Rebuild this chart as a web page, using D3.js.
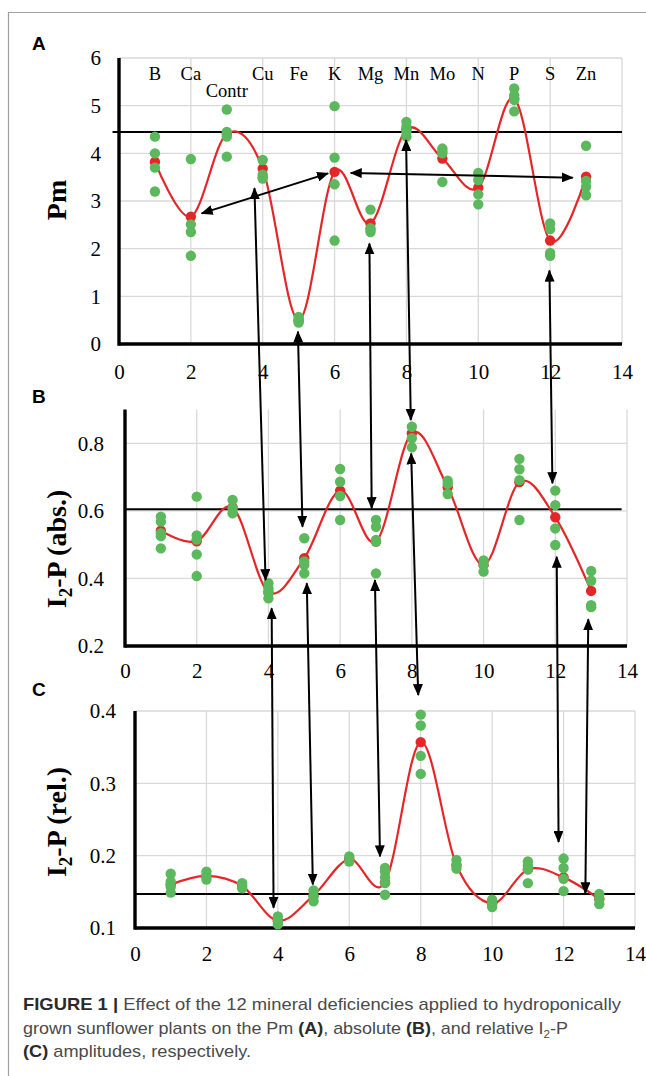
<!DOCTYPE html>
<html><head><meta charset="utf-8">
<script src="https://cdn.jsdelivr.net/npm/d3@7"></script>
<style>body{margin:0;background:#fff}svg{display:block}</style>
</head><body>
<svg id="chart" width="646" height="1076"></svg>
<script>
// ---------- DATA ----------
const categories = ["B","Ca","Contr","Cu","Fe","K","Mg","Mn","Mo","N","P","S","Zn"];
const xTicks = [0,2,4,6,8,10,12,14];

const pmTicks = [0,1,2,3,4,5,6];
const pmMean = [3.82,2.67,4.41,3.68,0.50,3.61,2.53,4.50,3.89,3.28,5.15,2.17,3.51];
const pmReps = [
  [4.35,4.0,3.7,3.2],[3.88,2.51,2.35,1.85],[4.92,4.45,4.35,3.93],[3.86,3.55,3.5,3.47],
  [0.57,0.52,0.48,0.45],[4.99,3.91,3.35,2.17],[2.82,2.43,2.4,2.35],[4.66,4.56,4.45,4.35],
  [4.1,4.05,4.0,3.4],[3.59,3.44,3.14,2.93],[5.36,5.22,5.12,4.88],[2.53,2.41,1.91,1.85],
  [4.16,3.42,3.3,3.12]];
const pmControl = 4.45;

const absTicks = [0.2,0.4,0.6,0.8];
const absMean = [0.541,0.51,0.61,0.36,0.46,0.66,0.509,0.83,0.67,0.44,0.685,0.581,0.363];
const absReps = [
  [0.583,0.568,0.534,0.525,0.489],[0.642,0.527,0.515,0.471,0.407],[0.632,0.608,0.593],
  [0.386,0.371,0.356,0.341],[0.519,0.45,0.44,0.415],[0.724,0.686,0.644,0.573],
  [0.573,0.553,0.514,0.509,0.415],[0.849,0.815,0.788],[0.689,0.68,0.65],[0.453,0.44,0.42],
  [0.754,0.723,0.691,0.573],[0.66,0.617,0.548,0.499],[0.422,0.393,0.321,0.315]];
const absControl = 0.605;

const relTicks = [0.1,0.2,0.3,0.4];
const relMean = [0.16,0.172,0.158,0.11,0.145,0.195,0.163,0.357,0.187,0.134,0.181,0.17,0.14];
const relReps = [
  [0.175,0.164,0.157,0.149],[0.178,0.171,0.167],[0.162,0.155],[0.116,0.109,0.105],
  [0.152,0.144,0.137],[0.199,0.192],[0.183,0.178,0.17,0.162,0.146],[0.395,0.38,0.338,0.313],
  [0.194,0.187,0.182],[0.139,0.134,0.129],[0.192,0.186,0.181,0.162],[0.196,0.183,0.168,0.151],
  [0.147,0.14,0.133]];
const relControl = 0.147;

// arrows: [panel, x, y] -> [panel, x, y] (tips), both ends headed
const arrows = [
  ["A",2.3,2.74,"A",5.82,3.58],
  ["A",6.45,3.59,"A",12.63,3.49],
  ["A",3.77,3.27,"B",3.92,0.395],
  ["A",4.98,0.26,"B",4.95,0.553],
  ["A",6.97,2.11,"B",6.88,0.608],
  ["A",7.99,4.28,"B",7.97,0.869],
  ["A",11.98,1.54,"B",11.92,0.682],
  ["B",4.09,0.312,"C",3.88,0.128],
  ["B",5.07,0.386,"C",4.98,0.16],
  ["B",6.97,0.395,"C",6.86,0.199],
  ["B",7.98,0.77,"C",7.93,0.422],
  ["B",12.04,0.464,"C",11.86,0.219],
  ["B",12.92,0.279,"C",12.61,0.148]
];

// ---------- DRAW ----------
const svg = d3.select("#chart");
const GREEN = "#5cb85c", RED = "#e52629", GRID = "#d9d9d9";
const SERIF = "'Liberation Serif','Times New Roman',serif";
const SANS = "'Liberation Sans',Arial,sans-serif";

// frame
svg.append("path").attr("d","M8.5,1076 V12.5 H646").attr("fill","none").attr("stroke","#a0a0a0").attr("stroke-width",1.2);

const defs = svg.append("defs");
defs.append("marker").attr("id","ah").attr("viewBox","0 0 12 10").attr("refX",11).attr("refY",5)
  .attr("markerUnits","userSpaceOnUse").attr("markerWidth",12).attr("markerHeight",10)
  .attr("orient","auto-start-reverse")
  .append("path").attr("d","M0,0 L12,5 L0,10 Z").attr("fill","#000");

const panels = {
  A:{x:d3.scaleLinear([0,14],[119,622]), y:d3.scaleLinear([0,6],[344,58]), ticks:pmTicks, mean:pmMean, reps:pmReps,
     ctrl:pmControl, ctrlX:[-0.18,14], fmt:d3.format("d"), letter:"A", letterY:50, padY:18, padX:20,
     title:[["Pm"]], titleY:200},
  B:{x:d3.scaleLinear([0,14],[125,627]), y:d3.scaleLinear([0.2,0.9],[646,409.5]), ticks:absTicks, mean:absMean, reps:absReps,
     ctrl:absControl, ctrlX:[0,13.85], fmt:d3.format(".1f"), letter:"B", letterY:403, padY:21, padX:17,
     title:[["I"],["2","sub"],["-P (abs.)"]], titleY:549},
  C:{x:d3.scaleLinear([0,14],[135,635]), y:d3.scaleLinear([0.1,0.4],[928,711]), ticks:relTicks, mean:relMean, reps:relReps,
     ctrl:relControl, ctrlX:[0,14], fmt:d3.format(".1f"), letter:"C", letterY:696, padY:19, padX:18,
     title:[["I"],["2","sub"],["-P (rel.)"]], titleY:822}
};

Object.values(panels).forEach(p => {
  const g = svg.append("g");
  const [y0,y1] = p.y.range();
  const [x0,x1] = p.x.range();
  // grid
  g.selectAll(".hg").data(p.ticks.concat(p.y.domain()[1] === p.ticks[p.ticks.length-1] ? [] : []))
    .join("line").attr("x1",x0).attr("x2",x1).attr("y1",d=>p.y(d)).attr("y2",d=>p.y(d))
    .attr("stroke",GRID).attr("stroke-width",1.3);
  g.selectAll(".vg").data(xTicks.filter(d=>d>0)).join("line")
    .attr("x1",d=>p.x(d)).attr("x2",d=>p.x(d)).attr("y1",y0).attr("y2",y1)
    .attr("stroke",GRID).attr("stroke-width",1.3);
  // control line
  g.append("line").attr("x1",p.x(p.ctrlX[0])).attr("x2",p.x(p.ctrlX[1]))
    .attr("y1",p.y(p.ctrl)).attr("y2",p.y(p.ctrl)).attr("stroke","#000").attr("stroke-width",2);
  // axes labels
  const ay = g.append("g").attr("transform",`translate(${x0},0)`)
    .call(d3.axisLeft(p.y).tickValues(p.ticks).tickSize(0).tickPadding(p.padY).tickFormat(p.fmt));
  const ax = g.append("g").attr("transform",`translate(0,${y0})`)
    .call(d3.axisBottom(p.x).tickValues(xTicks).tickSize(0).tickPadding(p.padX).tickFormat(d3.format("d")));
  [ay,ax].forEach(a=>{a.select(".domain").remove(); a.selectAll("text").attr("font-family",SERIF).attr("font-size",21).attr("fill","#000");});
  // heavy axis lines
  g.append("line").attr("x1",x0).attr("x2",x0).attr("y1",y0+1.7).attr("y2",y1).attr("stroke","#000").attr("stroke-width",3.4);
  g.append("line").attr("x1",x0).attr("x2",x1).attr("y1",y0).attr("y2",y0).attr("stroke","#000").attr("stroke-width",3.4);
  // mean curve
  const pts = p.mean.map((m,i)=>[i+1,m]);
  g.append("path").datum(pts).attr("fill","none").attr("stroke",RED).attr("stroke-width",2.2)
    .attr("d",d3.line().x(d=>p.x(d[0])).y(d=>p.y(d[1])).curve(d3.curveCardinal.tension(0)));
  g.selectAll(".md").data(pts).join("circle").attr("cx",d=>p.x(d[0])).attr("cy",d=>p.y(d[1])).attr("r",5.2).attr("fill",RED);
  const reps = p.reps.flatMap((arr,i)=>arr.map(v=>[i+1,v]));
  g.selectAll(".rd").data(reps).join("circle").attr("cx",d=>p.x(d[0])).attr("cy",d=>p.y(d[1])).attr("r",5.2).attr("fill",GREEN);
  // panel letter
  svg.append("text").attr("x",32).attr("y",p.letterY).attr("font-family",SANS).attr("font-weight","bold")
    .attr("font-size",19).text(p.letter);
  // y title
  const t = svg.append("text").attr("transform",`translate(66,${p.titleY}) rotate(-90)`).attr("text-anchor","middle")
    .attr("font-family",SERIF).attr("font-weight","bold").attr("font-size",28);
  let prevSub = false;
  p.title.forEach(([s,k])=>{
    const ts = t.append("tspan").text(s);
    if(k==="sub"){ts.attr("font-size",19).attr("dy",6);prevSub=true;}
    else if(prevSub){ts.attr("dy",-6);prevSub=false;}
  });
});

// category labels in panel A
const PA = panels.A;
svg.append("g").selectAll("text").data(categories).join("text")
  .attr("x",(d,i)=>PA.x(i+1)).attr("y",d=>d==="Contr"?97:80).attr("text-anchor","middle")
  .attr("font-family",SERIF).attr("font-size",18.5).text(d=>d);

// arrows
svg.append("g").selectAll("line").data(arrows).join("line")
  .attr("x1",d=>panels[d[0]].x(d[1])).attr("y1",d=>panels[d[0]].y(d[2]))
  .attr("x2",d=>panels[d[3]].x(d[4])).attr("y2",d=>panels[d[3]].y(d[5]))
  .attr("stroke","#000").attr("stroke-width",2)
  .attr("marker-start","url(#ah)").attr("marker-end","url(#ah)");

// caption
const capFont = "'Liberation Sans Narrow','Liberation Sans',Arial,sans-serif";
const capLines = [
  {y:1010, len:598, parts:[["FIGURE 1","b"],["  |  ","b"],["Effect of the 12 mineral deficiencies applied to hydroponically",""]]},
  {y:1034, len:545, parts:[["grown sunflower plants on the Pm ",""],["(A)","b"],[", absolute ",""],["(B)","b"],[", and relative I",""],["2","sub"],["-P",""]]},
  {y:1057, len:228, parts:[["(C)","b"],[" amplitudes, respectively.",""]]}
];
capLines.forEach(L=>{
  const t = svg.append("text").attr("x",23).attr("y",L.y).attr("font-family",capFont).attr("font-size",17)
    .attr("fill","#4a4a4a").attr("textLength",L.len).attr("lengthAdjust","spacingAndGlyphs");
  let sub=false;
  L.parts.forEach(([s,k])=>{
    const ts=t.append("tspan").text(s);
    if(k==="b") ts.attr("font-weight","bold").attr("fill","#2a2a2a");
    if(k==="sub"){ts.attr("font-size",11).attr("dy",4);sub=true;}
    else if(sub){ts.attr("dy",-4);sub=false;}
  });
});
</script>
</body></html>
